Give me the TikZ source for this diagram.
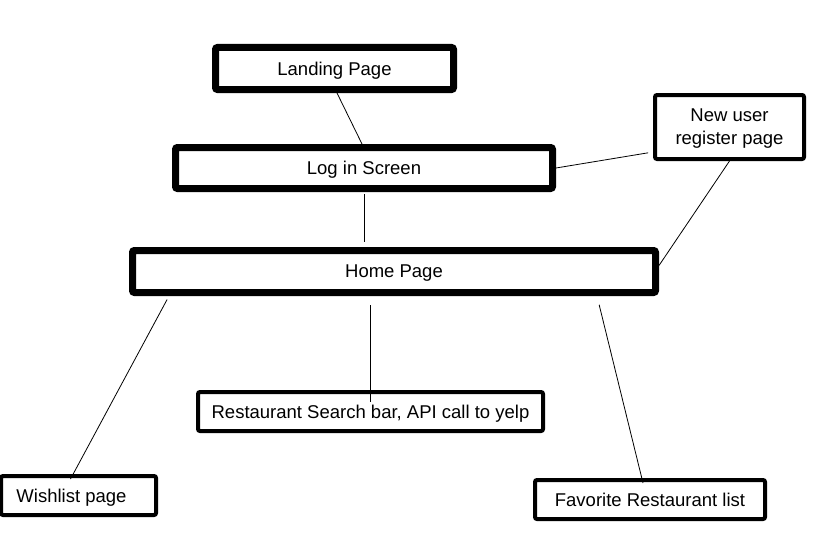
\documentclass[tikz,border=0pt]{standalone}
\usepackage{fontspec}
\setmainfont{Liberation Sans}
\usetikzlibrary{calc}

\begin{document}
\begin{tikzpicture}[
  x=1pt, y=1pt,
  box/.style   = {draw, fill=white, rounded corners=2pt, align=center,
                  inner sep=0pt, text depth=0pt,
                  font=\fontsize{18.5}{23}\selectfont},
  heavy/.style = {box, line width=7pt},
  light/.style = {box, line width=4pt},
  link/.style  = {line width=0.8pt}
]
  \useasboundingbox[fill=white] (0,0) rectangle (838,-543);

  %% Pages
  \node[heavy, minimum width=238, minimum height=42] (landing)  at (334.5,-68.5) {Landing Page};
  \node[heavy, minimum width=377, minimum height=41] (login)    at (364,-168)    {Log in Screen};
  \node[light, minimum width=149, minimum height=64] (newuser)  at (729.5,-127)  {New user\\register page};
  \node[heavy, minimum width=523, minimum height=42] (home)     at (394,-271.5)  {Home Page};
  \node[light, minimum width=345, minimum height=39] (search)   at (370.5,-411.5) {Restaurant Search bar, API call to yelp};
  \node[light, minimum width=155, minimum height=39] (wishlist) at (78.5,-495.5) {Wishlist page\hspace*{14pt}};
  \node[light, minimum width=230, minimum height=39] (favorite) at (650,-499.5) {Favorite Restaurant list};

  %% Connectors
  \draw[link] ([xshift=2.5pt]landing.south) -- ([xshift=-2pt]login.north);
  \draw[link, shorten <=2pt, shorten >=5pt] (login.south) -- (login.south |- home.north);
  \draw[link, shorten >=5pt] (login.east) -- ([yshift=-25pt]newuser.west);
  \draw[link] (newuser.south) -- ([yshift=6pt]home.east);
  \draw[link, shorten <=4pt] ([xshift=40pt]home.south west) -- ([xshift=-8pt,yshift=-5pt]wishlist.north);
  \draw[link, shorten <=9pt] (home.south -| search.north) -- ([yshift=-12pt]search.north);
  \draw[link, shorten <=9pt] ([xshift=-62pt]home.south east) -- ([xshift=-7pt,yshift=-5pt]favorite.north);
\end{tikzpicture}
\end{document}
